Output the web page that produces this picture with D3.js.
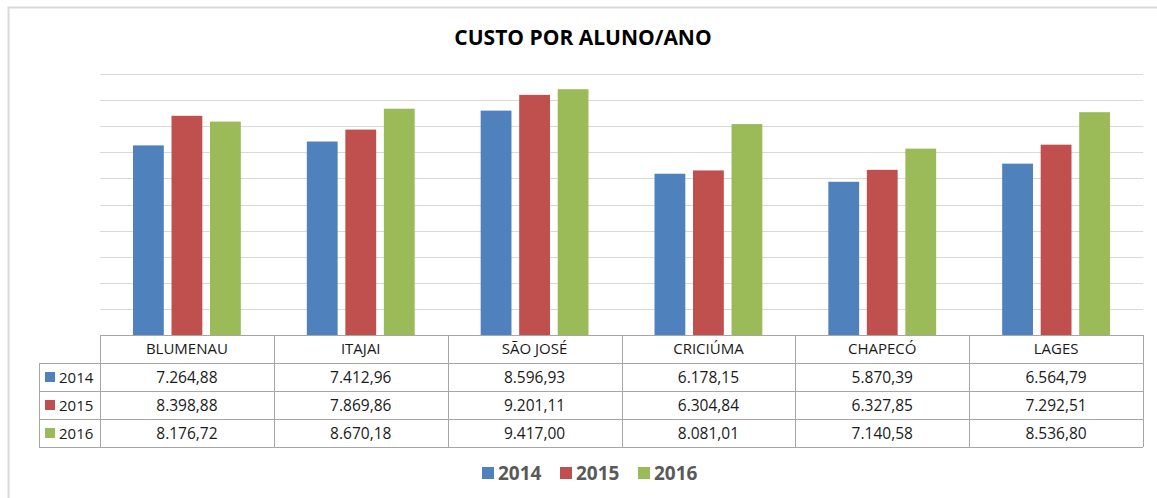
<!DOCTYPE html>
<html>
<head>
<meta charset="utf-8">
<script src="https://cdn.jsdelivr.net/npm/d3@7"></script>
<style>
  body { margin: 0; background: #fff; }
  svg { display: block; font-family: 'Open Sans', 'Liberation Sans', sans-serif; }
</style>
</head>
<body>
<svg id="svg"></svg>
<script>
const cities = ['BLUMENAU', 'ITAJAI', 'SÃO JOSÉ', 'CRICIÚMA', 'CHAPECÓ', 'LAGES']
const years = ['2014', '2015', '2016']
const v2014 = [7264.88, 7412.96, 8596.93, 6178.15, 5870.39, 6564.79]
const v2015 = [8398.88, 7869.86, 9201.11, 6304.84, 6327.85, 7292.51]
const v2016 = [8176.72, 8670.18, 9417.00, 8081.01, 7140.58, 8536.80]
const yTicks = [0, 1000, 2000, 3000, 4000, 5000, 6000, 7000, 8000, 9000, 10000]

const series = [v2014, v2015, v2016]
const colors = ['#4f81bd', '#c0504d', '#9bbb59']

let w = 1157
let h = 498
let plotLeft = 100
let plotRight = 1143
let plotTop = 74
let plotBottom = 335
let rowH = 28
let legendColLeft = 39

let svg = d3.select('#svg').attr('width', w).attr('height', h)

// outer chart frame
svg.append('path')
.attr('d', `M8.5,${h} V7.5 H${w}`)
.attr('fill', 'none')
.attr('stroke', '#d9d9d9')
.attr('stroke-width', 2)

svg.append('text')
.attr('x', 583).attr('y', 45)
.attr('text-anchor', 'middle')
.attr('font-size', 21)
.attr('font-weight', 'bold')
.attr('fill', '#000')
.text('CUSTO POR ALUNO/ANO')

let x0 = d3.scaleBand().domain(cities).range([plotLeft, plotRight])
let x1 = d3.scaleBand().domain(years).range([33, x0.bandwidth() - 33]).paddingInner(0.2)
let y = d3.scaleLinear().domain([0, 10000]).range([plotBottom, plotTop])

// gridlines
svg.append('g')
.selectAll('line')
.data(yTicks.slice(1))
.enter().append('line')
.attr('x1', plotLeft).attr('x2', plotRight)
.attr('y1', d => Math.round(y(d)) + 0.5).attr('y2', d => Math.round(y(d)) + 0.5)
.attr('stroke', '#d9d9d9')
.attr('stroke-width', 1.2)

// bars
let groups = svg.append('g')
.selectAll('g')
.data(cities)
.enter().append('g')
.attr('transform', d => `translate(${x0(d)},0)`)

groups.selectAll('rect')
.data((c, i) => years.map((yr, k) => ({ yr, k, v: series[k][i] })))
.enter().append('rect')
.attr('x', d => x1(d.yr))
.attr('width', x1.bandwidth())
.attr('y', d => y(d.v))
.attr('height', d => plotBottom - y(d.v))
.attr('fill', (d) => colors[d.k])

// data table
let tbl = svg.append('g')
let lineClr = '#a6a6a6'
let tableBottom = plotBottom + rowH * 4

// horizontal lines
tbl.append('line')
.attr('x1', plotLeft).attr('x2', plotRight)
.attr('y1', plotBottom + 0.5).attr('y2', plotBottom + 0.5)
.attr('stroke', lineClr)
for (let r = 1; r <= 4; r++) {
	tbl.append('line')
	.attr('x1', legendColLeft).attr('x2', plotRight)
	.attr('y1', plotBottom + r * rowH + 0.5).attr('y2', plotBottom + r * rowH + 0.5)
	.attr('stroke', lineClr)
}
// vertical lines
tbl.append('line')
.attr('x1', legendColLeft + 0.5).attr('x2', legendColLeft + 0.5)
.attr('y1', plotBottom + rowH).attr('y2', tableBottom)
.attr('stroke', lineClr)
cities.concat(['end']).forEach((c, i) => {
	let xx = Math.round(c === 'end' ? plotRight : x0(c)) + 0.5
	tbl.append('line')
	.attr('x1', xx).attr('x2', xx)
	.attr('y1', plotBottom).attr('y2', tableBottom)
	.attr('stroke', lineClr)
})

// header row
tbl.selectAll('text.cat')
.data(cities)
.enter().append('text')
.attr('class', 'cat')
.attr('x', d => x0(d) + x0.bandwidth() / 2)
.attr('y', plotBottom + rowH / 2 + 5)
.attr('text-anchor', 'middle')
.attr('font-size', 15)
.attr('fill', '#1a1a1a')
.text(d => d)

const fmtPt = v => {
	let s = v.toFixed(2).split('.')
	return s[0].replace(/\B(?=(\d{3})+(?!\d))/g, '.') + ',' + s[1]
}

years.forEach((yr, k) => {
	let cy = plotBottom + rowH * (k + 1) + rowH / 2
	tbl.append('rect')
	.attr('x', 45).attr('y', cy - 5)
	.attr('width', 10).attr('height', 10)
	.attr('fill', colors[k])
	tbl.append('text')
	.attr('x', 59).attr('y', cy + 5.5)
	.attr('font-size', 15)
	.attr('fill', '#1a1a1a')
	.text(yr)
	tbl.selectAll('text.v' + yr)
	.data(series[k])
	.enter().append('text')
	.attr('class', 'v' + yr)
	.attr('x', (d, i) => x0(cities[i]) + x0.bandwidth() / 2)
	.attr('y', cy + 5.5)
	.attr('text-anchor', 'middle')
	.attr('font-size', 15.5)
	.attr('fill', '#1a1a1a')
	.text(d => fmtPt(d))
})

// legend
let legX = [482, 560, 638]
let leg = svg.append('g')
years.forEach((yr, k) => {
	leg.append('rect')
	.attr('x', legX[k]).attr('y', 467)
	.attr('width', 12).attr('height', 12)
	.attr('fill', colors[k])
	leg.append('text')
	.attr('x', legX[k] + 16).attr('y', 480)
	.attr('font-size', 19)
	.attr('font-weight', 'bold')
	.attr('fill', '#595959')
	.text(yr)
})
</script>
</body>
</html>
